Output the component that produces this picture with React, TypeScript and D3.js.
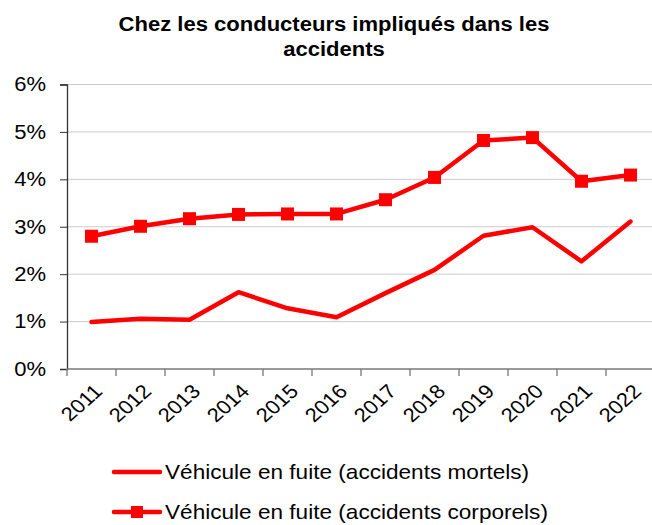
import React, { useEffect, useRef } from "react";
import * as d3 from "d3";

const years = ["2011", "2012", "2013", "2014", "2015", "2016", "2017", "2018", "2019", "2020", "2021", "2022"];
const mortels = [0.99, 1.06, 1.04, 1.62, 1.28, 1.09, 1.6, 2.09, 2.81, 2.99, 2.27, 3.11];
const corporels = [2.8, 3.01, 3.17, 3.26, 3.27, 3.27, 3.57, 4.04, 4.82, 4.88, 3.96, 4.09];
const yTicks = [0, 1, 2, 3, 4, 5, 6];
const titleLines = ["Chez les conducteurs impliqués dans les", "accidents"];
const legendLabels = ["Véhicule en fuite (accidents mortels)", "Véhicule en fuite (accidents corporels)"];

const W = 652;
const H = 525;
const FONT = "'Liberation Sans', Arial, sans-serif";
// the source picture is a little wider than tall, text looks stretched
const SX = 1.13;

export default function App() {
  const ref = useRef<SVGSVGElement>(null);

  useEffect(() => {
    const svg = d3.select(ref.current);
    svg.selectAll("*").remove();

    const left = 67;
    const top = 84.5;
    const bottom = 369;
    const band = 49;

    const x = d3.scaleBand().domain(years).range([left, left + band * years.length]);
    const y = d3.scaleLinear().domain([0, 6]).range([bottom, top]);

    // title
    svg
      .append("g")
      .selectAll("text")
      .data(titleLines)
      .enter()
      .append("text")
      .attr("transform", (d, i) => "translate(334," + (31 + i * 25) + ") scale(" + SX + ",1)")
      .attr("text-anchor", "middle")
      .attr("font-family", FONT)
      .attr("font-weight", "bold")
      .attr("font-size", 19.5)
      .text((d) => d);

    // gridlines
    svg
      .append("g")
      .selectAll("line")
      .data(yTicks.filter((t) => t > 0))
      .enter()
      .append("line")
      .attr("x1", left)
      .attr("x2", W)
      .attr("y1", (d) => y(d))
      .attr("y2", (d) => y(d))
      .attr("stroke", "#cccccc")
      .attr("stroke-width", 1);

    // y axis
    const yAxis = svg
      .append("g")
      .attr("transform", "translate(" + left + ",0)")
      .call(
        d3
          .axisLeft(y)
          .tickValues(yTicks)
          .tickSize(7)
          .tickPadding(8)
          .tickFormat((d) => d + "%")
      );
    yAxis.select(".domain").attr("stroke", "#333333").attr("stroke-width", 1.3);
    yAxis.selectAll(".tick line").attr("stroke", "#333333");
    yAxis
      .selectAll("text")
      .attr("x", 0)
      .attr("transform", "translate(-21,0) scale(" + SX + ",1)")
      .attr("font-family", FONT)
      .attr("font-size", 19.5)
      .attr("fill", "#000");

    // x axis
    const xg = svg.append("g").attr("transform", "translate(0," + bottom + ")");
    xg.append("line")
      .attr("x1", left)
      .attr("x2", W)
      .attr("y1", 0)
      .attr("y2", 0)
      .attr("stroke", "#777777")
      .attr("stroke-width", 1.3);
    xg.selectAll(".xt")
      .data(d3.range(years.length + 1))
      .enter()
      .append("line")
      .attr("x1", (i) => left + i * x.bandwidth())
      .attr("x2", (i) => left + i * x.bandwidth())
      .attr("y1", 0)
      .attr("y2", 7)
      .attr("stroke", "#777777")
      .attr("stroke-width", 1.3);
    xg.selectAll("text")
      .data(years)
      .enter()
      .append("text")
      .attr(
        "transform",
        (d) => "translate(" + (x(d)! + x.bandwidth() / 2 + 8) + ",20) scale(" + SX + ",1) rotate(-45)"
      )
      .attr("text-anchor", "end")
      .attr("dominant-baseline", "middle")
      .attr("font-family", FONT)
      .attr("font-size", 19.5)
      .text((d) => d);

    const cx = (d: string) => x(d)! + x.bandwidth() / 2;

    // mortels line
    svg
      .append("path")
      .datum(mortels)
      .attr("fill", "none")
      .attr("stroke", "#ff0000")
      .attr("stroke-width", 4.5)
      .attr("stroke-linejoin", "round")
      .attr("stroke-linecap", "round")
      .attr(
        "d",
        d3
          .line<number>()
          .x((d, i) => cx(years[i]))
          .y((d) => y(d))
      );

    // corporels line + markers
    svg
      .append("path")
      .datum(corporels)
      .attr("fill", "none")
      .attr("stroke", "#ff0000")
      .attr("stroke-width", 4.5)
      .attr("stroke-linejoin", "round")
      .attr(
        "d",
        d3
          .line<number>()
          .x((d, i) => cx(years[i]))
          .y((d) => y(d))
      );
    const ms = 13;
    svg
      .append("g")
      .selectAll("rect")
      .data(corporels)
      .enter()
      .append("rect")
      .attr("x", (d, i) => cx(years[i]) - ms / 2)
      .attr("y", (d) => y(d) - ms / 2)
      .attr("width", ms)
      .attr("height", ms)
      .attr("fill", "#ff0000");

    // legend
    const lg = svg.append("g");
    legendLabels.forEach((label, i) => {
      const ly = 472 + i * 40;
      lg.append("line")
        .attr("x1", 114)
        .attr("x2", 160)
        .attr("y1", ly)
        .attr("y2", ly)
        .attr("stroke", "#ff0000")
        .attr("stroke-width", 4.5)
        .attr("stroke-linecap", "round");
      if (i === 1) {
        lg.append("rect")
          .attr("x", 131)
          .attr("y", ly - 6)
          .attr("width", 12)
          .attr("height", 12)
          .attr("fill", "#ff0000");
      }
      lg.append("text")
        .attr("transform", "translate(165," + (ly + 7) + ") scale(" + SX + ",1)")
        .attr("font-family", FONT)
        .attr("font-size", 20)
        .text(label);
    });
  }, []);

  return <svg ref={ref} width={W} height={H} style={{ display: "block", position: "absolute", left: 0, top: 0 }} />;
}
